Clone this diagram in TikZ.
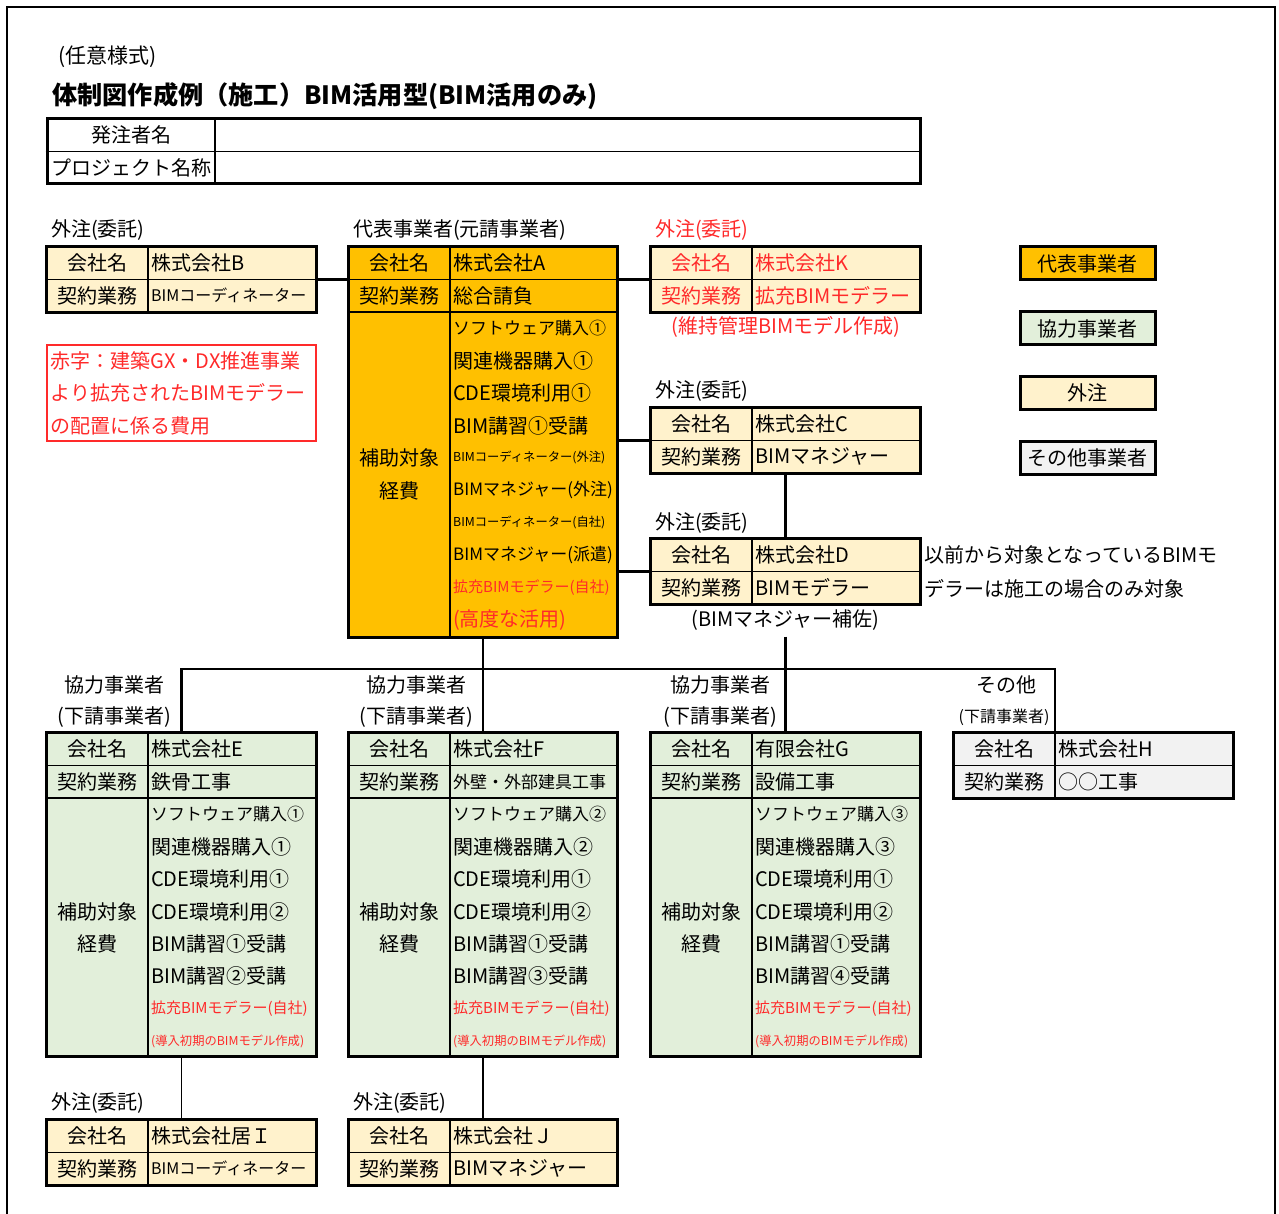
\documentclass[tikz,border=0pt]{standalone}
\usepackage{fontspec}
\setmainfont{Noto Sans CJK JP}

\definecolor{leadfill}{HTML}{FFC000}
\definecolor{outfill}{HTML}{FFF2CC}
\definecolor{subfill}{HTML}{E2EFDA}
\definecolor{othfill}{HTML}{F2F2F2}
\definecolor{redtxt}{HTML}{FF2A2A}

\newcommand{\szA}{\fontsize{20}{24}\selectfont}
\newcommand{\szB}{\fontsize{17}{20}\selectfont}
\newcommand{\szC}{\fontsize{16}{19}\selectfont}
\newcommand{\szD}{\fontsize{15}{18}\selectfont}
\newcommand{\szE}{\fontsize{12.3}{14}\selectfont}

\tikzset{
  boxline/.style={line width=3pt},
  cellline/.style={line width=1.8pt},
  conn/.style={line width=2.6pt},
  thinconn/.style={line width=1.8pt},
  txt/.style={inner sep=0pt, font=\szA},
  legend/.style={draw, line width=3pt, minimum width=135pt, minimum height=33pt, inner sep=0pt, font=\szA},
}

% firm table: [text colour] name, left, top, fill, company, job, height, width
\newcommand{\firm}[9][black]{%
  \node[fill=#5, minimum width=#9pt, minimum height=#8pt, inner sep=0pt] (#2) at (#3+#9/2,#4+#8/2) {};
  \draw[cellline] (#3,#4+32.5) -- ++(#9,0);
  \draw[cellline] (#3,#4+65) -- ++(#9,0);
  \draw[cellline] (#3+101,#4) -- ++(0,#8);
  \node[txt, text=#1] (#2-a) at (#3+50.5,#4+16.25) {会社名};
  \node[txt, text=#1] (#2-b) at (#3+50.5,#4+48.75) {契約業務};
  \node[txt, text=#1, anchor=west] (#2-c) at (#3+104,#4+16.25) {#6};
  \node[txt, text=#1, anchor=west] (#2-d) at (#3+104,#4+48.75) {#7};
  \draw[boxline] (#2.north west) rectangle (#2.south east);
}

% subsidy rows: name, left, top, rows, items
\newcommand{\costs}[5]{%
  \node[txt] (#1-e) at (#2+50.5,#3+65+#4*16.25-16.25) {補助対象};
  \node[txt] (#1-f) at (#2+50.5,#3+65+#4*16.25+16.25) {経費};
  \foreach \t [count=\i] in {#5}
    \node[txt, anchor=west] (#1-l\i) at (#2+104,#3+65+\i*32.4-16.2) {\t};
}

\begin{document}
\begin{tikzpicture}[x=1pt, y=-1pt]
  \useasboundingbox (0,0) rectangle (1279,1214);
  \draw[line width=1.5pt] (7,1214) -- (7,7) -- (1275,7) -- (1275,1214);

  % heading
  \node[txt, anchor=west, font=\fontsize{21}{24}\selectfont] (form) at (58,57) {(任意様式)};
  \node[txt, anchor=west, font=\bfseries\fontsize{25.2}{30}\selectfont] (title) at (52,96) {体制図作成例（施工）BIM活用型(BIM活用のみ)};

  % client table
  \node[draw, line width=3pt, minimum width=873pt, minimum height=65pt, inner sep=0pt] (client) at (483.5,151.5) {};
  \draw[cellline] (client.west) -- (client.east);
  \draw[cellline] (215,119) -- (215,184);
  \node[txt] (clientA) at (131,135) {発注者名};
  \node[txt] (clientB) at (131,167.5) {プロジェクト名称};

  % labels
  \node[txt, anchor=west] (lblB) at (51,230) {外注(委託)};
  \node[txt, anchor=west] (lblA) at (353,230) {代表事業者(元請事業者)};
  \node[txt, anchor=west, text=redtxt] (lblK) at (655,230) {外注(委託)};
  \node[txt, anchor=west] (lblC) at (655,391) {外注(委託)};
  \node[txt, anchor=west] (lblD) at (655,523) {外注(委託)};
  \node[txt, anchor=west] (lblI) at (51,1103) {外注(委託)};
  \node[txt, anchor=west] (lblJ) at (353,1103) {外注(委託)};
  \node[txt] (lblE1) at (114,685) {協力事業者};
  \node[txt] (lblE2) at (114,717) {(下請事業者)};
  \node[txt] (lblF1) at (416,685) {協力事業者};
  \node[txt] (lblF2) at (416,717) {(下請事業者)};
  \node[txt] (lblG1) at (720,685) {協力事業者};
  \node[txt] (lblG2) at (720,717) {(下請事業者)};
  \node[txt] (lblH1) at (1006,685) {その他};
  \node[txt, font=\szC] (lblH2) at (1004,717) {(下請事業者)};

  % firms
  \firm{B}{47}{247}{outfill}{株式会社B}{{\szC BIMコーディネーター}}{65}{269}
  \firm{A}{349}{247}{leadfill}{株式会社A}{総合請負}{390}{268}
  \costs{A}{349}{247}{10}{{\szB ソフトウェア購入①}, 関連機器購入①, CDE環境利用①, BIM講習①受講,
    {\szE BIMコーディネーター(外注)}, {\szB BIMマネジャー(外注)}, {\szE BIMコーディネーター(自社)},
    {\szB BIMマネジャー(派遣)}, {\color{redtxt}\szD 拡充BIMモデラー(自社)}, {\color{redtxt}(高度な活用)}}
  \firm[redtxt]{K}{651}{247}{outfill}{株式会社K}{拡充BIMモデラー}{65}{269}
  \firm{C}{651}{408}{outfill}{株式会社C}{BIMマネジャー}{65}{269}
  \firm{D}{651}{539}{outfill}{株式会社D}{BIMモデラー}{65}{269}
  \firm{E}{47}{733}{subfill}{株式会社E}{鉄骨工事}{323}{269}
  \costs{E}{47}{733}{8}{{\szB ソフトウェア購入①}, 関連機器購入①, CDE環境利用①, CDE環境利用②,
    BIM講習①受講, BIM講習②受講, {\color{redtxt}\szD 拡充BIMモデラー(自社)}, {\color{redtxt}\szE (導入初期のBIMモデル作成)}}
  \firm{F}{349}{733}{subfill}{株式会社F}{{\szB 外壁・外部建具工事}}{323}{268}
  \costs{F}{349}{733}{8}{{\szB ソフトウェア購入②}, 関連機器購入②, CDE環境利用①, CDE環境利用②,
    BIM講習①受講, BIM講習③受講, {\color{redtxt}\szD 拡充BIMモデラー(自社)}, {\color{redtxt}\szE (導入初期のBIMモデル作成)}}
  \firm{G}{651}{733}{subfill}{有限会社G}{設備工事}{323}{269}
  \costs{G}{651}{733}{8}{{\szB ソフトウェア購入③}, 関連機器購入③, CDE環境利用①, CDE環境利用②,
    BIM講習①受講, BIM講習④受講, {\color{redtxt}\szD 拡充BIMモデラー(自社)}, {\color{redtxt}\szE (導入初期のBIMモデル作成)}}
  \firm{H}{954}{733}{othfill}{株式会社H}{○○工事}{65}{279}
  \firm{I}{47}{1120}{outfill}{株式会社居Ｉ}{{\szC BIMコーディネーター}}{65}{269}
  \firm{J}{349}{1120}{outfill}{株式会社Ｊ}{BIMマネジャー}{65}{268}

  % notes
  \node[txt, text=redtxt] (Knote) at (786,327) {(維持管理BIMモデル作成)};
  \node[txt, minimum height=33pt] (Dnote) at (785.5,620) {(BIMマネジャー補佐)};
  \node[txt, anchor=west] (side1) at (924,555) {以前から対象となっているBIMモ};
  \node[txt, anchor=west] (side2) at (924,589) {デラーは施工の場合のみ対象};
  \node[draw=redtxt, line width=1.5pt, minimum width=269pt, minimum height=96pt, text width=262pt,
    align=left, inner sep=0pt, text=redtxt, font=\fontsize{20}{32.5}\selectfont] (redNote) at (181.5,393)
    {赤字：建築GX・DX推進事業\\より拡充されたBIMモデラー\\の配置に係る費用};

  % legend
  \node[legend, fill=leadfill] (keyLead) at (1087.5,263.5) {代表事業者};
  \node[legend, fill=subfill] (keySub) at (1087.5,328.5) {協力事業者};
  \node[legend, fill=outfill] (keyOut) at (1087.5,392.5) {外注};
  \node[legend, fill=othfill] (keyOth) at (1087.5,458) {その他事業者};

  % connectors
  \coordinate (Hcol) at (1055,733);
  \draw[conn] (B.east) -- (B.east -| A.west);
  \draw[conn] (A.east |- K.west) -- (K.west);
  \draw[conn] (A.east |- C.west) -- (C.west);
  \draw[conn] (A.east |- D.west) -- (D.west);
  \draw[conn] (C.south) -- (D.north);
  \draw[conn] (A.south) -- (F.north);
  \draw[conn] (Dnote.south) -- (G.north);
  \draw[conn] (E.north) -- ++(0,-64) -| (Hcol);
  \draw[thinconn] (E.south) -- (I.north);
  \draw[thinconn] (F.south) -- (J.north);
\end{tikzpicture}
\end{document}
